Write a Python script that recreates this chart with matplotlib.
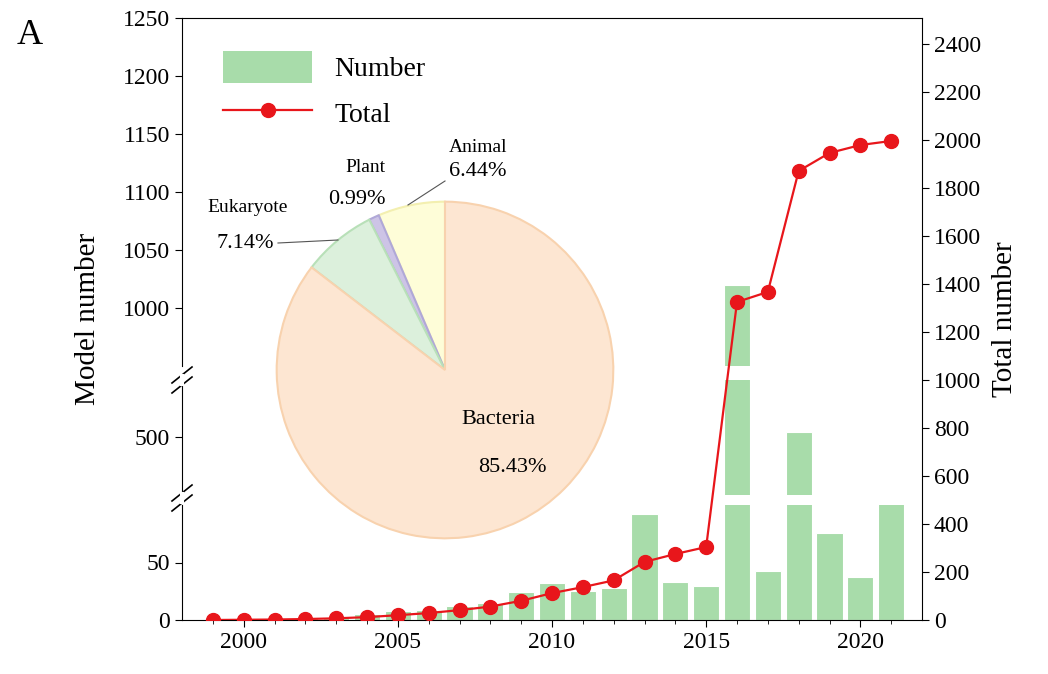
import matplotlib
matplotlib.use("Agg")
import matplotlib.pyplot as plt
import numpy as np
from matplotlib.lines import Line2D
from matplotlib.patches import Patch

plt.rcParams["font.family"] = ["Liberation Serif", "DejaVu Serif"]

years = np.arange(1999, 2022)
number = [0, 0.5, 1, 2, 3, 5, 8, 9, 12, 15, 24, 32, 25, 28, 92, 33, 30, 1020, 43, 510, 76, 37, 150]
total = [0, 1, 2, 4, 7, 12, 20, 29, 41, 56, 80, 112, 137, 165, 242, 275, 304, 1325, 1367, 1871, 1946, 1979, 1996]

pie_labels = ["Animal", "Plant", "Eukaryote", "Bacteria"]
pie_values = [6.44, 0.99, 7.14, 85.43]
pie_colors = ["#fefdd8", "#cdc4e6", "#dcf0dc", "#fde6d2"]
pie_edges = ["#f3efb0", "#b0a8d8", "#b8e0b8", "#f8d2ae"]

W, H = 1048, 674
fig = plt.figure(figsize=(W / 100, H / 100), dpi=100)


def fx(px):
    return px / W


def fy(py):
    return 1 - py / H


left, right = fx(182), fx(922)
w = right - left
bar_color = "#a8dcaa"
fs = 17

# broken left axis: (pixel top, pixel bottom, ylim, ticks)
segments = [
    (505, 620, (0, 100), [0, 50]),
    (380, 495, (400, 600), [500]),
    (18, 366, (950, 1250), [1000, 1050, 1100, 1150, 1200, 1250]),
]
for top, bot, lim, ticks in segments:
    ax = fig.add_axes([left, fy(bot), w, fy(top) - fy(bot)])
    ax.bar(years, number, width=0.85, color=bar_color, edgecolor="white", linewidth=0.8)
    ax.set_xlim(1998, 2022)
    ax.set_ylim(*lim)
    ax.set_yticks(ticks)
    ax.tick_params(axis="y", labelsize=fs, direction="out", length=5)
    ax.set_xticks([])
    for s in ["top", "right", "bottom"]:
        ax.spines[s].set_visible(False)
    ax.patch.set_alpha(0)

fig.text(fx(88), fy(319), "Model number", rotation=90, ha="center", va="center", fontsize=21)

# break marks
for py in (380, 498):
    for dy in (-5, 5):
        fig.add_artist(Line2D([fx(172), fx(192)], [fy(py + dy + 8), fy(py + dy - 8)],
                              color="black", lw=1.2))
    fig.add_artist(Line2D([fx(182), fx(182)], [fy(py - 4), fy(py + 4)], color="white", lw=3))

# overlay frame with right axis
axr = fig.add_axes([left, fy(620), w, fy(18) - fy(620)])
axr.patch.set_alpha(0)
axr.plot(years, total, color="#e8161b", marker="o", markersize=10, lw=1.6, zorder=5)
axr.set_xlim(1998, 2022)
axr.set_ylim(0, 2400 * (602 / 576))
axr.yaxis.tick_right()
axr.yaxis.set_label_position("right")
axr.set_yticks(np.arange(0, 2401, 200))
axr.set_xticks([2000, 2005, 2010, 2015, 2020])
axr.set_xticks(np.arange(1999, 2022), minor=True)
axr.tick_params(labelsize=fs, direction="out", length=5)
axr.tick_params(which="minor", direction="out", length=3)
axr.set_ylabel("Total number", fontsize=21, labelpad=8)
axr.spines["left"].set_visible(False)

# pie inset
axp = fig.add_axes([fx(275), fy(540), fx(615) - fx(275), fy(200) - fy(540)])
wedges, _ = axp.pie(pie_values, colors=pie_colors, startangle=90, counterclock=True,
                    wedgeprops=dict(linewidth=1.5))
for wdg, ec in zip(wedges, pie_edges):
    wdg.set_edgecolor(ec)
axp.set_xlim(-1.01, 1.01)
axp.set_ylim(-1.01, 1.01)
axp.set_aspect("equal")

tfs = 14
fig.text(fx(478), fy(147), "Animal", fontsize=tfs, ha="center", va="center")
fig.text(fx(478), fy(172), "6.44%", fontsize=tfs + 2, ha="center", va="center")
fig.text(fx(365), fy(167), "Plant", fontsize=tfs, ha="center", va="center")
fig.text(fx(357), fy(200), "0.99%", fontsize=tfs + 2, ha="center", va="center")
fig.text(fx(248), fy(208), "Eukaryote", fontsize=tfs, ha="center", va="center")
fig.text(fx(245), fy(243), "7.14%", fontsize=tfs + 2, ha="center", va="center")
fig.text(fx(498), fy(420), "Bacteria", fontsize=tfs + 2, ha="center", va="center")
fig.text(fx(512), fy(467), "85.43%", fontsize=tfs + 2, ha="center", va="center")
fig.add_artist(Line2D([fx(408), fx(445)], [fy(205), fy(181)], color="#555555", lw=0.8))
fig.add_artist(Line2D([fx(278), fx(338)], [fy(243), fy(240)], color="#555555", lw=0.8))

fig.text(fx(30), fy(35), "A", fontsize=26, ha="center", va="center")

handles = [Patch(facecolor=bar_color, edgecolor="none"),
           Line2D([], [], color="#e8161b", marker="o", markersize=10, lw=1.6)]
fig.legend(handles, ["Number", "Total"], loc="upper left", bbox_to_anchor=(fx(212), fy(40)),
           frameon=False, fontsize=20, handlelength=3.2, handleheight=1.4, borderaxespad=0)

fig.savefig("out.png", dpi=100)
